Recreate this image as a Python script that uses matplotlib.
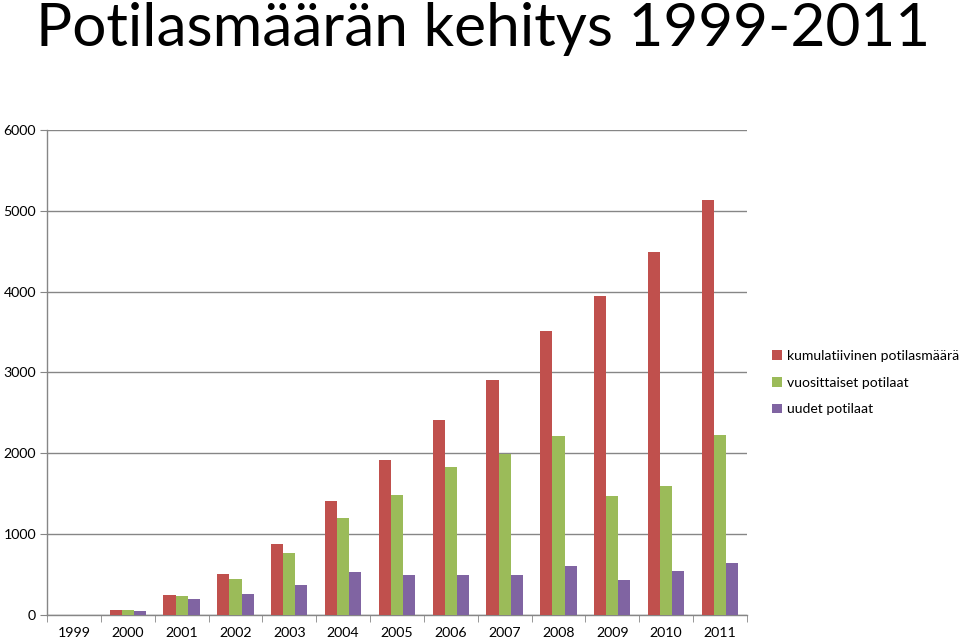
import numpy as np
import matplotlib.pyplot as plt

plt.rcParams['font.family'] = ['Lato', 'DejaVu Sans']

years = ['1999', '2000', '2001', '2002', '2003', '2004', '2005',
         '2006', '2007', '2008', '2009', '2010', '2011']
kumulatiivinen = [0, 60, 250, 510, 880, 1410, 1920, 2410, 2910, 3515, 3950, 4490, 5135]
vuosittaiset = [0, 60, 240, 445, 770, 1200, 1485, 1830, 1990, 2215, 1475, 1600, 2230]
uudet = [0, 55, 195, 260, 370, 527, 498, 494, 490, 605, 432, 540, 638]

labels = ['kumulatiivinen potilasmäärä', 'vuosittaiset potilaat', 'uudet potilaat']
colors = ['#C0504D', '#9BBB59', '#8064A2']

fig = plt.figure(figsize=(9.6, 6.4), dpi=100)
ax = fig.add_axes([0.049, 0.039, 0.729, 0.758])

x = np.arange(len(years))
w = 0.225
for i, (vals, lab, c) in enumerate(zip([kumulatiivinen, vuosittaiset, uudet], labels, colors)):
    ax.bar(x + (i - 1) * w, vals, width=w, color=c, label=lab, zorder=3)

ax.set_xlim(-0.5, len(years) - 0.5)
ax.set_ylim(0, 6000)
ax.set_yticks(range(0, 6001, 1000))
ax.set_xticks(x)
ax.set_xticklabels(years)
ax.set_xticks(np.arange(-0.5, len(years), 1), minor=True)
ax.tick_params(axis='x', which='major', length=0, pad=8.5, labelsize=10.2)
ax.tick_params(axis='x', which='minor', length=5, color='#868686', direction='out')
ax.tick_params(axis='y', length=5, color='#868686', labelsize=10.2, pad=3)
ax.grid(axis='y', color='#868686', linewidth=1, zorder=0)
for s in ['top', 'right']:
    ax.spines[s].set_visible(False)
for s in ['left', 'bottom']:
    ax.spines[s].set_color('#868686')
    ax.spines[s].set_linewidth(1)

fig.text(0.038, 0.955, 'Potilasmäärän kehitys 1999-2011', fontsize=43.5, va='center', ha='left')

fig.legend(loc='upper left', bbox_to_anchor=(0.798, 0.462), frameon=False,
           fontsize=10.1, handlelength=0.7, handleheight=0.7, handletextpad=0.4,
           labelspacing=1.05, borderaxespad=0)

fig.savefig('out.png')
